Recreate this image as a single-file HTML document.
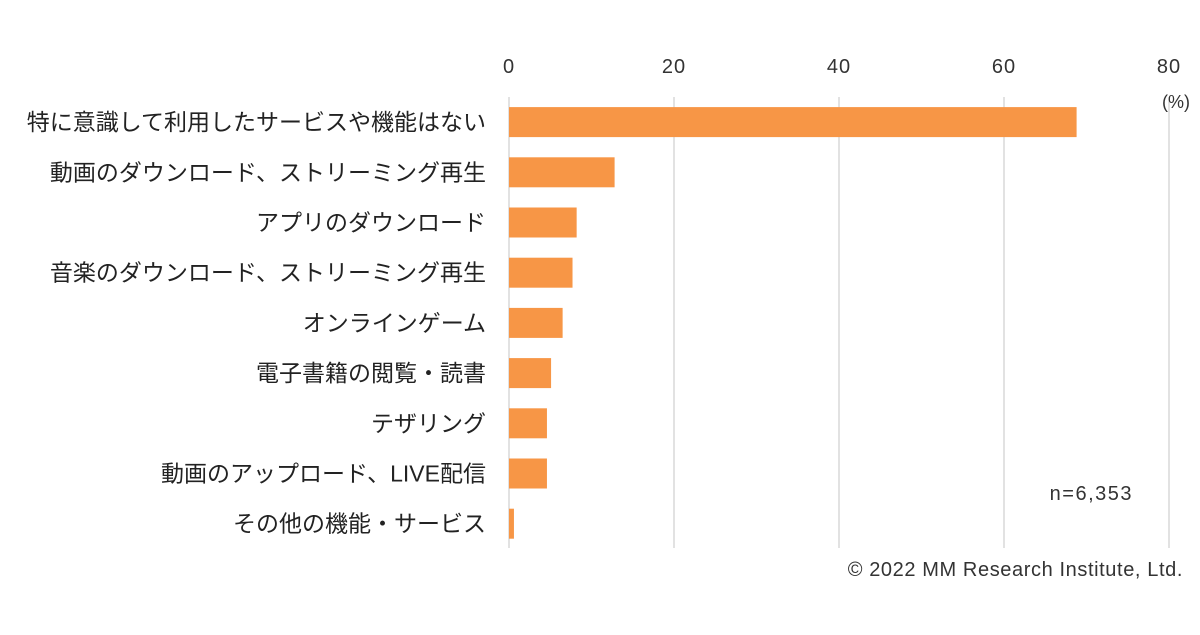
<!DOCTYPE html>
<html><head><meta charset="utf-8"><style>
body{margin:0;background:#fff;}
svg text{font-family:"Liberation Sans","Noto Sans CJK JP",sans-serif;}
</style></head><body>
<svg width="1200" height="630" id="chart">
</svg>
<script>
const categories=["特に意識して利用したサービスや機能はない","動画のダウンロード、ストリーミング再生","アプリのダウンロード","音楽のダウンロード、ストリーミング再生","オンラインゲーム","電子書籍の閲覧・読書","テザリング","動画のアップロード、LIVE配信","その他の機能・サービス"];
const values=[68.8,12.8,8.2,7.7,6.5,5.1,4.6,4.6,0.6];
const ticks=[0,20,40,60,80];
const svg=document.getElementById('chart');
const NS='http://www.w3.org/2000/svg';
const x0=509,x1=1169,vmax=80;
const xs=v=>x0+(x1-x0)*v/vmax;
const rowTop=97,rowH=50.2;
const ys=i=>rowTop+rowH*i+rowH/2;
function mk(t,a){const e=document.createElementNS(NS,t);for(const k in a)e.setAttribute(k,a[k]);svg.appendChild(e);return e;}
ticks.forEach(t=>{
 const g=mk('line',{x1:xs(t),x2:xs(t),y1:97,y2:548,stroke:'#d9d9d9','stroke-width':1.5});
 
 
 const l=mk('text',{x:xs(t),y:73,'text-anchor':'middle','font-size':20,'letter-spacing':1,fill:'#333'});
 l.textContent=t;
 
 
});
const u=mk('text',{x:1176,y:108,'text-anchor':'middle','font-size':18,fill:'#333'});u.textContent='(%)';


categories.forEach((c,i)=>{
 const b=mk('rect',{x:x0,y:ys(i)-15,width:xs(values[i])-x0,height:30,fill:'#f79646'});
 
 
 const t=mk('text',{x:486,y:ys(i)+8,'text-anchor':'end','font-size':23,fill:'#222'});
 t.textContent=c;
 
 
});
const n=mk('text',{x:1133,y:500,'text-anchor':'end','font-size':20,'letter-spacing':1.5,fill:'#333'});n.textContent='n=6,353';


const c=mk('text',{x:1183,y:576,'text-anchor':'end','font-size':20,'letter-spacing':0.6,fill:'#333'});c.textContent='© 2022 MM Research Institute, Ltd.';


</script>
</body></html>
